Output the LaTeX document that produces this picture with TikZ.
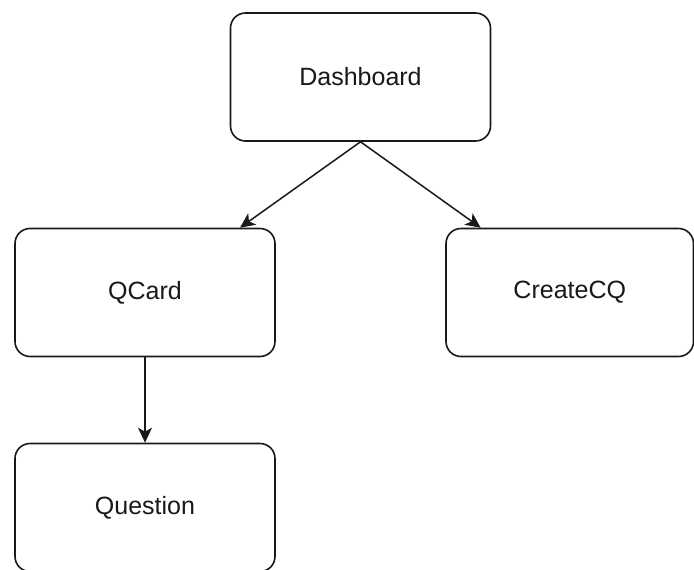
\documentclass[tikz,border=0pt]{standalone}
\usepackage{fontspec}
\setmainfont{Liberation Sans}
\usetikzlibrary{arrows.meta}
\begin{document}
\begin{tikzpicture}[x=1pt,y=-1pt,
  box/.style={draw=black!90, line width=1.6pt, rounded corners=15pt, fill=white,
    minimum width=260pt, minimum height=128pt, inner sep=0pt,
    font=\fontsize{25}{29}\selectfont, text=black!90},
  arr/.style={draw=black!90, line width=1.5pt, -{Stealth[length=15pt,width=14pt,inset=4pt]}}]
  \useasboundingbox (0,0) rectangle (694,570);
  \fill[white] (0,0) rectangle (694,570);
  % component boxes
  \node[box] (dash) at (360.5,77) {Dashboard};
  \node[box] (qcard) at (145,292.5) {QCard};
  \node[box, minimum width=247.5pt] (create) at (569.75,292.5) {CreateCQ};
  \node[box] (question) at (145,507.5) {Question};
  % connectors
  \draw[arr] (dash.south) -- ([xshift=95pt]qcard.north);
  \draw[arr] (dash.south) -- ([xshift=35.5pt]create.north west);
  \draw[arr] (qcard.south) -- (question.north);
\end{tikzpicture}
\end{document}
